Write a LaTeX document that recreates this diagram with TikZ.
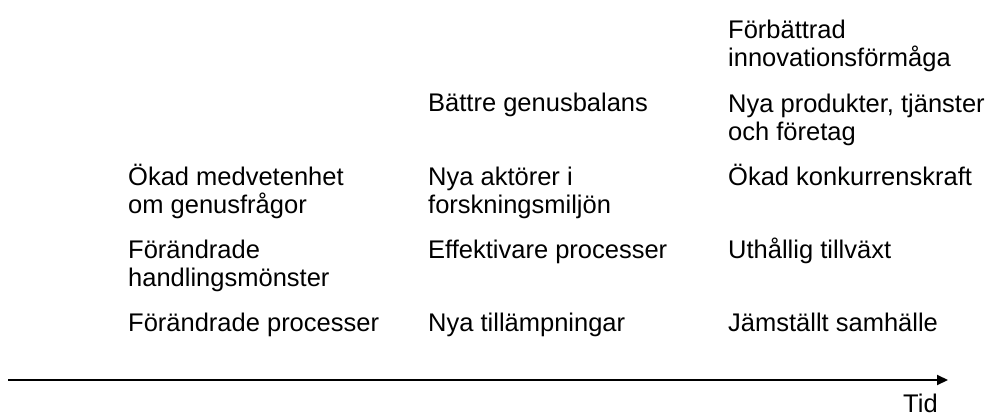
\documentclass[tikz,border=0pt]{standalone}
\usepackage{fontspec}
\setmainfont{Liberation Sans}
\usetikzlibrary{arrows.meta}
\begin{document}
\begin{tikzpicture}[x=1pt,y=-1pt,
  lbl/.style={anchor=base west,inner sep=0pt,font=\fontsize{25.5}{28}\selectfont,align=left}]
\useasboundingbox (0,0) rectangle (992,417);
% rows (first-line baselines): 39, 112, 185, 258, 331; second line +28
% column 1
\node[lbl] (c1a) at (128,213) {Ökad medvetenhet\\om genusfrågor};
\node[lbl] (c1b) at (128,286) {Förändrade\\handlingsmönster};
\node[lbl] (c1c) at (128,331) {Förändrade processer};
% column 2
\node[lbl] (c2a) at (428,112) {Bättre genusbalans};
\node[lbl] (c2b) at (428,213) {Nya aktörer i\\forskningsmiljön};
\node[lbl] (c2c) at (428,258) {Effektivare processer};
\node[lbl] (c2d) at (428,331) {Nya tillämpningar};
% column 3
\node[lbl] (c3a) at (728,67) {Förbättrad\\innovationsförmåga};
\node[lbl] (c3b) at (728,140) {Nya produkter, tjänster\\och företag};
\node[lbl] (c3c) at (728,185) {Ökad konkurrenskraft};
\node[lbl] (c3d) at (728,258) {Uthållig tillväxt};
\node[lbl] (c3e) at (728,331) {Jämställt samhälle};
% time axis
\coordinate (t0) at (8,380);
\coordinate (t1) at (948,380);
\draw[line width=2pt,-{Triangle[length=11pt,width=10pt]}] (t0) -- (t1);
\node[lbl] (tid) at (903,412) {Tid};
\end{tikzpicture}
\end{document}
